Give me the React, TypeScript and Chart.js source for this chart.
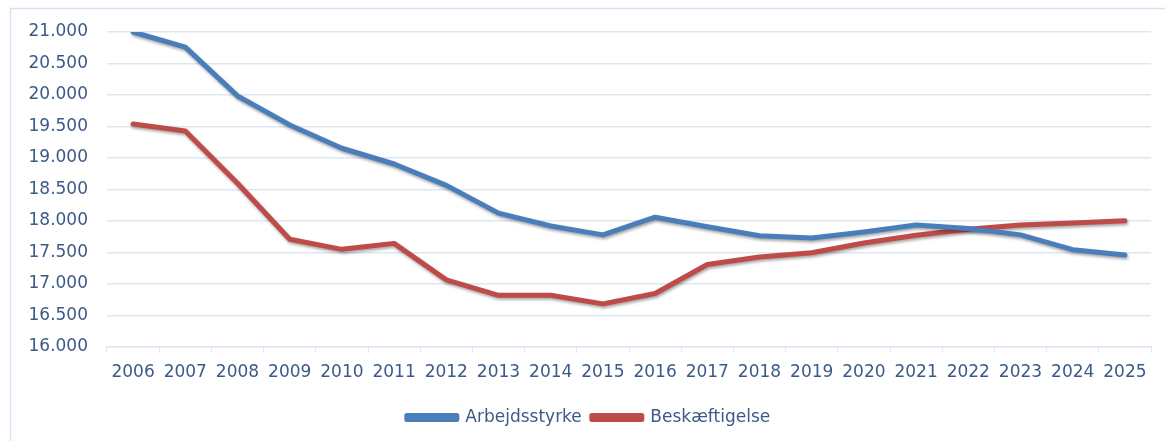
import React, { useEffect, useRef } from "react";
import { Chart, registerables } from "chart.js";

Chart.register(...registerables);

const years = ["2006","2007","2008","2009","2010","2011","2012","2013","2014","2015","2016","2017","2018","2019","2020","2021","2022","2023","2024","2025"];
const arbejdsstyrke = [21000,20760,19985,19525,19155,18905,18565,18125,17920,17780,18060,17910,17765,17730,17825,17935,17880,17780,17545,17460];
const beskaeftigelse = [19540,19430,18600,17710,17550,17645,17065,16820,16820,16685,16850,17310,17430,17495,17650,17775,17870,17935,17970,18005];
const yTicks = [16000,16500,17000,17500,18000,18500,19000,19500,20000,20500,21000];

const textColor = "#3B5A88";
const gridColor = "#DDE7F3";

const fmt = (v: number) => `${Math.floor(v / 1000)}.${String(Math.round(v % 1000)).padStart(3, "0")}`;

const framePlugin = {
  id: "frame",
  beforeDraw(chart: any) {
    const ctx = chart.ctx;
    ctx.save();
    ctx.fillStyle = "#ffffff";
    ctx.fillRect(0, 0, chart.width, chart.height);
    ctx.strokeStyle = "#D6E2F1";
    ctx.lineWidth = 1.5;
    ctx.strokeRect(10.5, 8.5, chart.width + 20, chart.height + 20);
    ctx.restore();
  },
  beforeDatasetsDraw(chart: any) {
    const ctx = chart.ctx;
    ctx.save();
    ctx.shadowColor = "rgba(0,0,0,0.35)";
    ctx.shadowBlur = 3;
    ctx.shadowOffsetX = 1;
    ctx.shadowOffsetY = 2;
  },
  afterDatasetsDraw(chart: any) {
    chart.ctx.restore();
  },
};

export default function App() {
  const ref = useRef<HTMLCanvasElement>(null);
  useEffect(() => {
    if (!ref.current) return;
    const font = { family: "'DejaVu Sans', sans-serif", size: 17 };
    const chart = new Chart(ref.current, {
      type: "line",
      data: {
        labels: years,
        datasets: [
          {
            label: "Arbejdsstyrke",
            data: arbejdsstyrke,
            borderColor: "#4A7EBB",
            backgroundColor: "#4A7EBB",
            borderWidth: 5,
            pointRadius: 0,
            tension: 0,
            borderCapStyle: "round",
            borderJoinStyle: "round",
          },
          {
            label: "Beskæftigelse",
            data: beskaeftigelse,
            borderColor: "#BE4B48",
            backgroundColor: "#BE4B48",
            borderWidth: 5,
            pointRadius: 0,
            tension: 0,
            borderCapStyle: "round",
            borderJoinStyle: "round",
          },
        ],
      },
      plugins: [framePlugin],
      options: {
        responsive: false,
        animation: false,
        layout: { padding: { left: 26, right: 14, top: 32, bottom: 5 } },
        plugins: {
          tooltip: { enabled: false },
          legend: {
            position: "bottom",
            labels: {
              boxWidth: 50,
              boxHeight: 4,
              padding: 10,
              color: textColor,
              font,
            },
          },
        },
        scales: {
          x: {
            offset: true,
            grid: {
              offset: true,
              drawOnChartArea: false,
              drawTicks: true,
              tickLength: 6,
              color: gridColor,
            },
            border: { color: gridColor, width: 1.5 },
            ticks: { color: textColor, font, padding: 9, maxRotation: 0, autoSkip: false },
            afterFit(scale: any) {
              scale.height = 52;
            },
          },
          y: {
            min: 16000,
            max: 21000,
            afterBuildTicks(scale: any) {
              scale.ticks = yTicks.map((v) => ({ value: v }));
            },
            grid: { color: gridColor, lineWidth: 1.5, drawTicks: false },
            border: { display: false },
            ticks: {
              color: textColor,
              font,
              padding: 19,
              callback: (v: any) => fmt(Number(v)),
            },
            afterFit(scale: any) {
              scale.width = 81;
            },
          },
        },
      },
    });
    return () => chart.destroy();
  }, []);
  return (
    <div style={{ position: "fixed", left: 0, top: 0, width: 1165, height: 441, background: "#fff" }}>
      <canvas ref={ref} width={1165} height={441} style={{ display: "block" }} />
    </div>
  );
}
